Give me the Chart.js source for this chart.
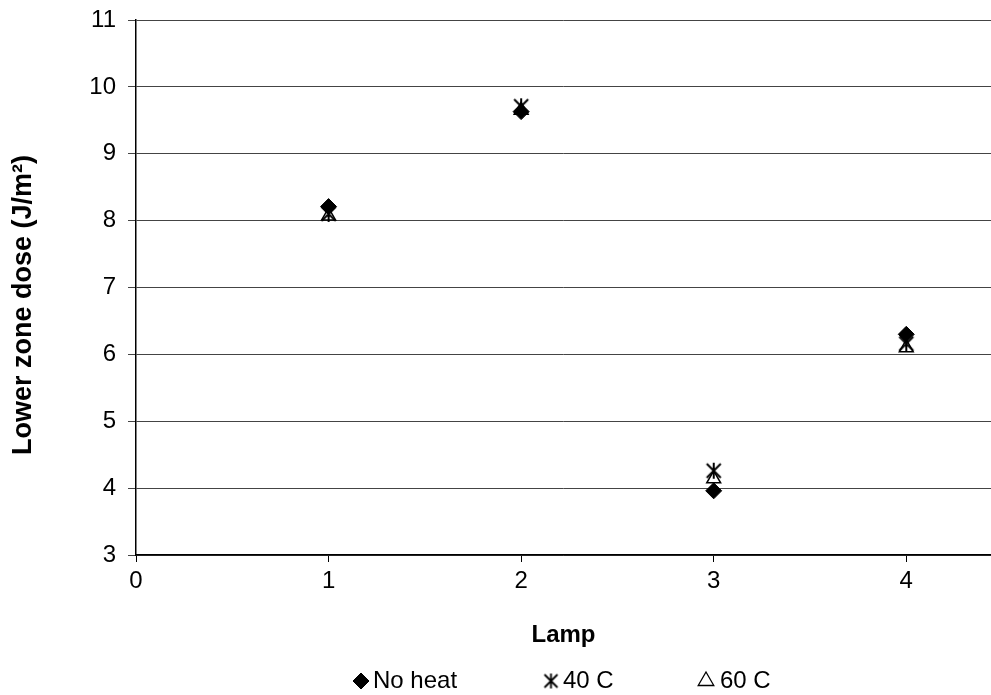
<!DOCTYPE html>
<html>
<head>
<meta charset="utf-8">
<script src="https://cdn.jsdelivr.net/npm/chart.js@4.4.0/dist/chart.umd.min.js"></script>
<style>
  html, body { margin: 0; padding: 0; background: #fff; overflow: hidden; }
  #wrap { width: 991px; height: 695px; position: relative; }
</style>
</head>
<body>
<div id="wrap"><canvas id="chart"></canvas></div>
<script>
// data
const lamps = [1, 2, 3, 4];
const noHeat = [8.21, 9.63, 3.96, 6.30];
const heat40 = [8.10, 9.71, 4.26, 6.16];
const heat60 = [8.07, 9.65, 4.14, 6.10];
const seriesNames = ["No heat", "40 C", "60 C"];
const xTicks = [0, 1, 2, 3, 4];
const yTicks = [3, 4, 5, 6, 7, 8, 9, 10, 11];
const yTitle = "Lower zone dose (J/m²)";

const FONT = "'Liberation Sans', Arial, sans-serif";

// asterisk marker (x with a vertical bar)
function makeStar(size, lw) {
  const c = document.createElement("canvas");
  c.width = size; c.height = size;
  const g = c.getContext("2d");
  g.strokeStyle = "#000";
  g.lineWidth = lw;
  const m = 2, s = size - 2;
  g.beginPath();
  g.moveTo(m, m); g.lineTo(s, s);
  g.moveTo(s, m); g.lineTo(m, s);
  g.moveTo(size / 2, 1); g.lineTo(size / 2, size - 1);
  g.stroke();
  return c;
}
const star = makeStar(18, 2);
const starSmall = makeStar(17, 1.8);

function pts(vals) {
  return lamps.map((x, i) => ({ x: x, y: vals[i] }));
}

// y title sits a bit below the plot middle in the original, so draw it here
const sideTitle = {
  id: "sideTitle",
  afterDraw(chart) {
    const ctx = chart.ctx;
    ctx.save();
    ctx.translate(24, 305);
    ctx.rotate(-Math.PI / 2);
    ctx.font = "bold 27px " + FONT;
    ctx.fillStyle = "#000";
    ctx.textAlign = "center";
    ctx.textBaseline = "middle";
    ctx.fillText(yTitle, 0, 0);
    ctx.restore();
  }
};

// legend drawn under the axis title
const bottomLegend = {
  id: "bottomLegend",
  afterDraw(chart) {
    const ctx = chart.ctx;
    const y = 681;
    const items = [
      { x: 361, tx: 373, style: "rectRot", r: 8, fill: "#000", bw: 1 },
      { x: 551, tx: 563, style: starSmall, r: 8, fill: "#000", bw: 0 },
      { x: 706, tx: 720, style: "triangle", r: 9, fill: "rgba(0,0,0,0)", bw: 1.3 }
    ];
    ctx.save();
    ctx.font = "24px " + FONT;
    ctx.textBaseline = "middle";
    ctx.textAlign = "left";
    items.forEach((it, i) => {
      ctx.fillStyle = it.fill;
      ctx.strokeStyle = "#000";
      ctx.lineWidth = it.bw;
      Chart.helpers.drawPoint(ctx, { pointStyle: it.style, radius: it.r, borderWidth: it.bw, rotation: 0 }, it.x, y);
      ctx.fillStyle = "#000";
      ctx.fillText(seriesNames[i], it.tx, y);
    });
    ctx.restore();
  }
};

new Chart(document.getElementById("chart"), {
  type: "scatter",
  data: {
    datasets: [
      {
        label: seriesNames[0],
        data: pts(noHeat),
        pointStyle: "rectRot",
        pointRadius: 8,
        backgroundColor: "#000",
        borderColor: "#000",
        borderWidth: 1
      },
      {
        label: seriesNames[1],
        data: pts(heat40),
        pointStyle: star,
        pointRadius: 9,
        backgroundColor: "#000",
        borderColor: "#000"
      },
      {
        label: seriesNames[2],
        data: pts(heat60),
        pointStyle: "triangle",
        pointRadius: 8,
        backgroundColor: "rgba(0,0,0,0)",
        borderColor: "#000",
        borderWidth: 1.5
      }
    ]
  },
  options: {
    responsive: true,
    maintainAspectRatio: false,
    animation: false,
    events: [],
    layout: { autoPadding: false, padding: { top: 20, right: 0, left: 0, bottom: 0 } },
    plugins: {
      legend: { display: false },
      tooltip: { enabled: false }
    },
    scales: {
      x: {
        type: "linear",
        min: 0,
        max: 4.44,
        afterBuildTicks: (s) => { s.ticks = xTicks.map((v) => ({ value: v })); },
        afterFit: (s) => { s.height = 140; s.paddingLeft = 0; s.paddingRight = 0; },
        grid: {
          drawOnChartArea: false,
          drawTicks: true,
          tickLength: 7,
          color: "#000"
        },
        border: { color: "#000", width: 1.5 },
        ticks: {
          color: "#000",
          padding: 5,
          maxRotation: 0,
          font: { family: FONT, size: 24 }
        },
        title: {
          display: true,
          text: "Lamp",
          color: "#000",
          font: { family: FONT, size: 24, weight: "bold" },
          padding: { top: 0, bottom: 45 }
        }
      },
      y: {
        min: 3,
        max: 11,
        afterBuildTicks: (s) => { s.ticks = yTicks.map((v) => ({ value: v })); },
        afterFit: (s) => { s.width = 136; s.paddingTop = 0; s.paddingBottom = 0; },
        grid: {
          color: "#444",
          lineWidth: 1,
          tickLength: 8,
          drawTicks: true
        },
        border: { color: "#000", width: 1.5 },
        ticks: {
          color: "#000",
          padding: 12,
          font: { family: FONT, size: 24 }
        }
      }
    }
  },
  plugins: [sideTitle, bottomLegend]
});
</script>
</body>
</html>
